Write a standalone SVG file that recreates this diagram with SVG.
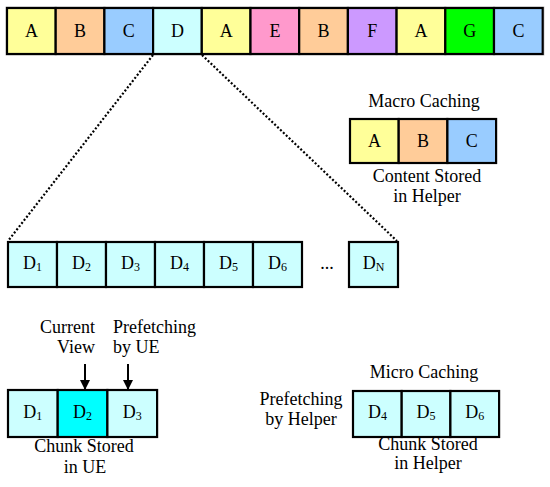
<svg xmlns="http://www.w3.org/2000/svg" width="550" height="487" viewBox="0 0 550 487" font-family="'Liberation Serif', 'DejaVu Serif', serif">
<style>
text{font-family:"Liberation Serif","DejaVu Serif",serif;font-size:18px;fill:#000}
.c{text-anchor:middle}
.cell{stroke:#000;stroke-width:2.2}
.sub{font-size:12px}
.y{fill:#FFFF99}.o{fill:#FFCC99}.b{fill:#99CCFF}.d{fill:#CCFFFF}.p{fill:#FF99CC}.v{fill:#CC99FF}.g{fill:#00FF00}.k{fill:#00FFFF}
.dot{stroke:#000;stroke-width:2.2;stroke-dasharray:2 2;fill:none}
.arr{stroke:#000;stroke-width:2;fill:none}
</style>
<defs>
<marker id="ah" viewBox="0 0 10 10" refX="9" refY="5" markerWidth="5" markerHeight="5" orient="auto">
<path d="M0,0 L10,5 L0,10 z" fill="#000"/>
</marker>
</defs>
<rect x="6" y="7" width="538" height="48" fill="none" stroke="#ccc" stroke-width="1"/>
<g id="top-row">
<rect class="cell y" x="7" y="8" width="48.7" height="46"/><text class="c" x="31.4" y="37">A</text>
<rect class="cell o" x="55.7" y="8" width="48.7" height="46"/><text class="c" x="80.1" y="37">B</text>
<rect class="cell b" x="104.4" y="8" width="48.7" height="46"/><text class="c" x="128.8" y="37">C</text>
<rect class="cell d" x="153.1" y="8" width="48.7" height="46"/><text class="c" x="177.5" y="37">D</text>
<rect class="cell y" x="201.8" y="8" width="48.7" height="46"/><text class="c" x="226.2" y="37">A</text>
<rect class="cell p" x="250.5" y="8" width="48.7" height="46"/><text class="c" x="274.9" y="37">E</text>
<rect class="cell o" x="299.2" y="8" width="48.7" height="46"/><text class="c" x="323.6" y="37">B</text>
<rect class="cell v" x="347.9" y="8" width="48.7" height="46"/><text class="c" x="372.3" y="37">F</text>
<rect class="cell y" x="396.6" y="8" width="48.7" height="46"/><text class="c" x="421" y="37">A</text>
<rect class="cell g" x="445.3" y="8" width="48.7" height="46"/><text class="c" x="469.7" y="37">G</text>
<rect class="cell b" x="494" y="8" width="48.7" height="46"/><text class="c" x="518.4" y="37">C</text>
</g>
<g id="connectors">
<line class="dot" x1="153" y1="55" x2="8" y2="241"/>
<line class="dot" x1="202" y1="55" x2="397" y2="241"/>
<line class="arr" x1="85" y1="364" x2="85" y2="389" marker-end="url(#ah)"/>
<line class="arr" x1="128" y1="364" x2="128" y2="389" marker-end="url(#ah)"/>
</g>
<g id="macro-caching">
<text class="c" x="424" y="107">Macro Caching</text>
<rect class="cell y" x="350" y="119" width="48.7" height="44"/><text class="c" x="374.4" y="147" fill="#333">A</text>
<rect class="cell o" x="398.7" y="119" width="48.7" height="44"/><text class="c" x="423" y="147" fill="#333">B</text>
<rect class="cell b" x="447.4" y="119" width="48.7" height="44"/><text class="c" x="471.8" y="147" fill="#333">C</text>
<text class="c" x="427" y="182">Content Stored</text>
<text class="c" x="427" y="202">in Helper</text>
</g>
<g id="chunk-row">
<rect class="cell d" x="8" y="242" width="49" height="45"/><text class="c" x="32.5" y="269">D<tspan class="sub" dy="2">1</tspan></text>
<rect class="cell d" x="57" y="242" width="49" height="45"/><text class="c" x="81.5" y="269">D<tspan class="sub" dy="2">2</tspan></text>
<rect class="cell d" x="106" y="242" width="49" height="45"/><text class="c" x="130.5" y="269">D<tspan class="sub" dy="2">3</tspan></text>
<rect class="cell d" x="155" y="242" width="49" height="45"/><text class="c" x="179.5" y="269">D<tspan class="sub" dy="2">4</tspan></text>
<rect class="cell d" x="204" y="242" width="49" height="45"/><text class="c" x="228.5" y="269">D<tspan class="sub" dy="2">5</tspan></text>
<rect class="cell d" x="253" y="242" width="49" height="45"/><text class="c" x="277.5" y="269">D<tspan class="sub" dy="2">6</tspan></text>
<text class="c" x="327" y="269">...</text>
<rect class="cell d" x="349" y="242" width="49" height="45"/><text class="c" x="373.5" y="269">D<tspan class="sub" dy="2">N</tspan></text>
</g>
<g id="ue-chunk">
<text x="95" y="333" text-anchor="end">Current</text>
<text x="95" y="353" text-anchor="end">View</text>
<text x="113" y="333">Prefetching</text>
<text x="113" y="353">by UE</text>
<rect class="cell d" x="8" y="390" width="49.7" height="47"/><text class="c" x="32.8" y="418">D<tspan class="sub" dy="2">1</tspan></text>
<rect class="cell k" x="57.7" y="390" width="49.7" height="47"/><text class="c" x="82.5" y="418">D<tspan class="sub" dy="2">2</tspan></text>
<rect class="cell d" x="107.4" y="390" width="49.7" height="47"/><text class="c" x="132.2" y="418">D<tspan class="sub" dy="2">3</tspan></text>
<text class="c" x="84" y="452">Chunk Stored</text>
<text class="c" x="85" y="473">in UE</text>
</g>
<g id="micro-caching">
<text class="c" x="424" y="378">Micro Caching</text>
<text class="c" x="301" y="405">Prefetching</text>
<text class="c" x="301" y="425">by Helper</text>
<rect class="cell d" x="353" y="391" width="48.7" height="46"/><text class="c" x="377.4" y="418">D<tspan class="sub" dy="2">4</tspan></text>
<rect class="cell d" x="401.7" y="391" width="48.7" height="46"/><text class="c" x="426" y="418">D<tspan class="sub" dy="2">5</tspan></text>
<rect class="cell d" x="450.4" y="391" width="48.7" height="46"/><text class="c" x="474.8" y="418">D<tspan class="sub" dy="2">6</tspan></text>
<text class="c" x="428" y="450">Chunk Stored</text>
<text class="c" x="428" y="469">in Helper</text>
</g>
</svg>
